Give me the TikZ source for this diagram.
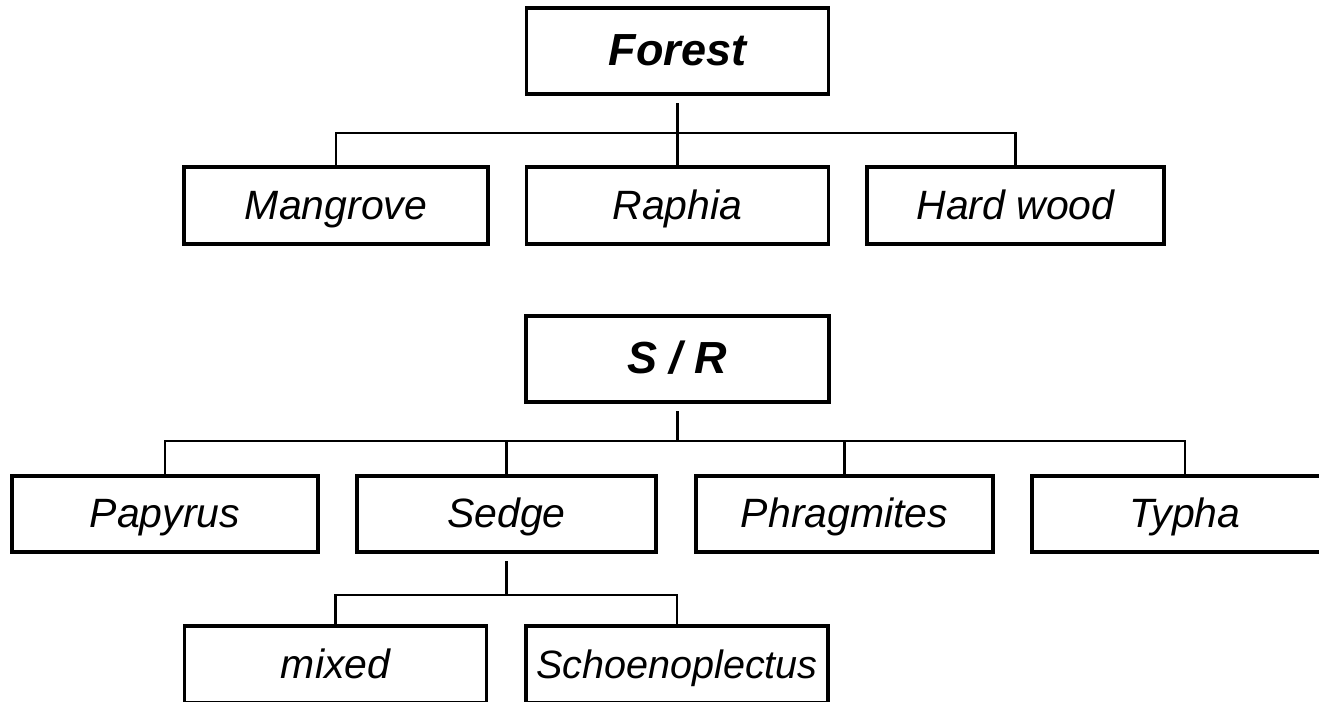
\documentclass[tikz,border=0pt]{standalone}
\usepackage{fontspec}
\setmainfont{Liberation Sans}
\usepackage{tikz}
\usetikzlibrary{positioning, calc}
\tikzset{
  taxon/.style={rectangle, draw=black, fill=white, minimum width=6.04cm,
    minimum height=1.54cm, inner sep=0pt, line width=1.8pt,
    text height=0.6cm, text depth=0.05cm,
    font=\fontsize{23.3}{28}\selectfont\itshape},
  group/.style={taxon, minimum height=1.72cm, text height=0.65cm,
    font=\fontsize{25.6}{30}\selectfont\bfseries\itshape},
  link/.style={line width=1.5pt, color=black},
  stub/.style={link, shorten <=0.15cm}
}

\begin{document}
\begin{tikzpicture}
  \useasboundingbox (0,0) rectangle (26.38,14.04);

  % Forest tree
  \node[group] (forest) at (13.55, 13.02) {Forest};
  \node[taxon, minimum width=6.08cm] (mangrove) at (6.72, 9.93) {Mangrove};
  \node[taxon] (raphia) at (13.55, 9.93) {Raphia};
  \node[taxon, minimum width=5.94cm] (hardwood) at (20.31, 9.93) {Hard wood};

  % S/R tree
  \node[group, minimum width=6.06cm] (sr) at (13.55, 6.86) {S / R};
  \node[taxon, minimum width=6.12cm, minimum height=1.52cm] (papyrus) at (3.30, 3.76) {Papyrus};
  \node[taxon, minimum width=5.98cm, minimum height=1.52cm] (sedge) at (10.13, 3.76) {Sedge};
  \node[taxon, minimum width=5.94cm, minimum height=1.52cm] (phragmites) at (16.89, 3.76) {Phragmites};
  \node[taxon, minimum width=6.12cm, minimum height=1.52cm] (typha) at (23.70, 3.76) {Typha};
  \node[taxon] (mixed) at (6.71, 0.75) {mixed};
  \node[taxon, font=\fontsize{22.5}{27}\selectfont\itshape] (schoen) at (13.54, 0.75) {Schoenoplectus};

  % Bus lines
  \coordinate (bus1) at (0, 11.38);
  \coordinate (bus2) at (0, 5.22);
  \coordinate (bus3) at (0, 2.14);

  % Paths
  \draw[stub] (forest.south) -- (raphia.north);
  \draw[link] (mangrove.north) -- (mangrove.north |- bus1) -| (hardwood.north);

  \draw[stub] (sr.south) -- (sr.south |- bus2);
  \draw[link] (papyrus.north) -- (papyrus.north |- bus2) -| (typha.north);
  \draw[link] (sedge.north) -- (sedge.north |- bus2);
  \draw[link] (phragmites.north) -- (phragmites.north |- bus2);

  \draw[stub] (sedge.south) -- (sedge.south |- bus3);
  \draw[link] (mixed.north) -- (mixed.north |- bus3) -| (schoen.north);
\end{tikzpicture}
\end{document}
